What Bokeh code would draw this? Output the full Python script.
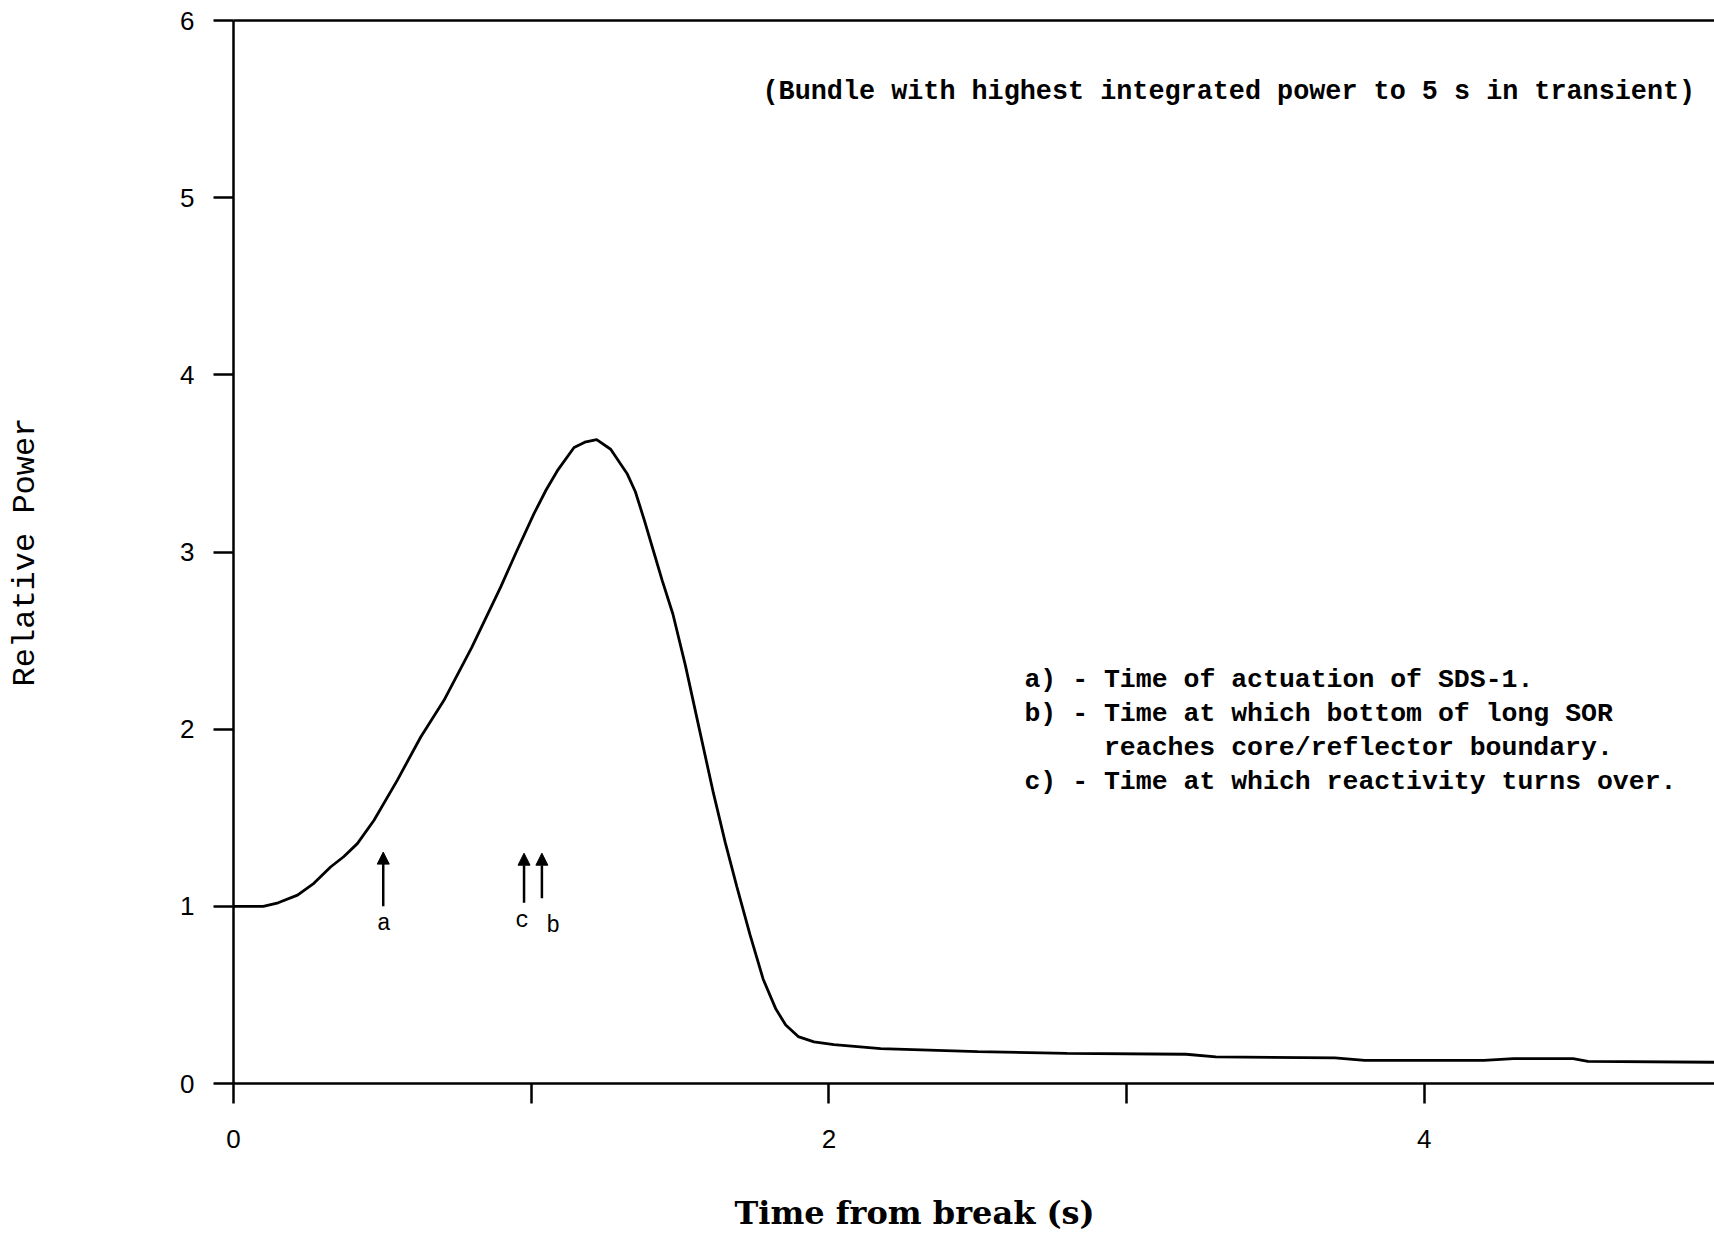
from bokeh.plotting import figure
from bokeh.models import (Range1d, LinearAxis, FixedTicker, Label, Arrow,
                          NormalHead, ColumnDataSource, Title)
from bokeh.core.properties import value
from bokeh.embed import file_html
from bokeh.resources import INLINE

# ---- data ----
time_s = [0.0, 0.05, 0.10, 0.15, 0.215, 0.27, 0.326, 0.37, 0.416, 0.472,
          0.55, 0.629, 0.707, 0.80, 0.897, 0.95, 1.009, 1.05, 1.088, 1.144,
          1.18, 1.22, 1.267, 1.323, 1.35, 1.38, 1.41, 1.44, 1.476, 1.518,
          1.561, 1.612, 1.652, 1.691, 1.735, 1.779, 1.822, 1.855, 1.897, 1.95,
          2.017, 2.174, 2.5, 2.8, 3.2, 3.3, 3.7, 3.8, 4.2, 4.3, 4.5, 4.55,
          4.975]
rel_power = [1.0, 1.0, 1.0, 1.02, 1.063, 1.13, 1.222, 1.28, 1.354, 1.486,
             1.711, 1.956, 2.163, 2.46, 2.80, 3.0, 3.215, 3.35, 3.459, 3.59,
             3.62, 3.634, 3.58, 3.44, 3.34, 3.18, 3.01, 2.84, 2.65, 2.36,
             2.03, 1.64, 1.36, 1.11, 0.84, 0.59, 0.42, 0.33, 0.265, 0.235,
             0.22, 0.197, 0.18, 0.17, 0.165, 0.15, 0.145, 0.13, 0.13, 0.14,
             0.14, 0.125, 0.12]

event_labels = ["a", "b", "c"]
event_times = [0.503, 1.036, 0.976]
event_base = [1.0, 1.045, 1.02]
event_tip = [1.306, 1.30, 1.30]
event_label_x = [0.505, 1.074, 0.97]
event_label_y = [0.90, 0.89, 0.915]

x_ticks = [0, 1, 2, 3, 4]
x_tick_labels = {0: "0", 1: "", 2: "2", 3: "", 4: "4"}
y_ticks = [0, 1, 2, 3, 4, 5, 6]

note_title = "(Bundle with highest integrated power to 5 s in transient)"
note_lines = ["a) - Time of actuation of SDS-1.",
              "b) - Time at which bottom of long SOR",
              "reaches core/reflector boundary.",
              "c) - Time at which reactivity turns over."]
note_x = [2.657, 2.657, 2.924, 2.657]
note_y = [2.276, 2.084, 1.893, 1.700]

# ---- figure ----
p = figure(width=1714, height=1236, x_range=Range1d(0, 4.975),
           y_range=Range1d(0, 6), output_backend="svg", toolbar_location=None,
           min_border_left=233, min_border_right=0, min_border_top=20,
           min_border_bottom=153)
p.grid.visible = False
p.outline_line_color = None
p.background_fill_color = "white"
p.border_fill_color = "white"

mono = "Liberation Mono"

xa = p.xaxis[0]
xa.ticker = FixedTicker(ticks=x_ticks)
xa.major_label_overrides = x_tick_labels
ya = p.yaxis[0]
ya.ticker = FixedTicker(ticks=y_ticks)
ya.axis_label = "Relative Power"
ya.axis_label_text_font = mono
ya.axis_label_text_font_size = "32px"
ya.axis_label_text_font_style = "normal"
ya.axis_label_text_color = "black"
ya.axis_label_standoff = 133

for ax in (xa, ya):
    ax.axis_line_width = 2.5
    ax.axis_line_color = "black"
    ax.major_tick_line_width = 2.5
    ax.major_tick_line_color = "black"
    ax.major_tick_out = 20
    ax.major_tick_in = 0
    ax.minor_tick_line_color = None
    ax.major_label_text_font = "Liberation Sans"
    ax.major_label_text_font_size = "26px"
    ax.major_label_text_color = "black"
xa.major_label_standoff = 26
ya.major_label_standoff = 19

top = LinearAxis(ticker=FixedTicker(ticks=[]), axis_line_width=2.5,
                 axis_line_color="black", major_tick_out=0, major_tick_in=0,
                 minor_tick_line_color=None, major_label_text_font_size="0px",
                 major_label_standoff=0)
p.add_layout(top, "above")

# blank spacer panel below the x axis (white on white), then the x axis title
spacer = LinearAxis(ticker=FixedTicker(ticks=[2.5]), axis_line_color=None,
                    major_tick_out=37, major_tick_in=0,
                    major_tick_line_color="white", minor_tick_line_color=None,
                    major_label_overrides={2.5: ""},
                    major_label_text_font_size="0px", major_label_standoff=0)
p.add_layout(spacer, "below")
p.add_layout(Title(text="Time from break (s)", align="left", offset=501,
                   text_font="DejaVu Serif", text_font_size="32px",
                   text_font_style="bold", text_color="black", standoff=8),
             "below")

# curve
p.line(time_s, rel_power, line_width=2.8, line_color="black")

# event arrows
arrow_src = ColumnDataSource(dict(x=event_times, y0=event_base, y1=event_tip))
p.add_layout(Arrow(source=arrow_src, x_start="x", y_start="y0", x_end="x",
                   y_end="y1", line_width=2.5, line_color="black",
                   end=NormalHead(size=12, fill_color="black",
                                  line_color="black", line_width=1)))
p.text(event_label_x, event_label_y, text=event_labels,
       text_font=value(mono), text_font_size="23px", text_color="black",
       text_align="center", text_baseline="middle")

# notes
p.add_layout(Label(x=1.777, y=5.594, text=note_title, text_font=mono,
                   text_font_size="26.8px", text_font_style="bold",
                   text_color="black", text_baseline="middle",
                   text_align="left"))
p.text(note_x, note_y, text=note_lines, text_font=value(mono),
       text_font_size="26.5px", text_font_style="bold", text_color="black",
       text_baseline="middle", text_align="left")

open("out.html", "w").write(file_html(p, INLINE))
